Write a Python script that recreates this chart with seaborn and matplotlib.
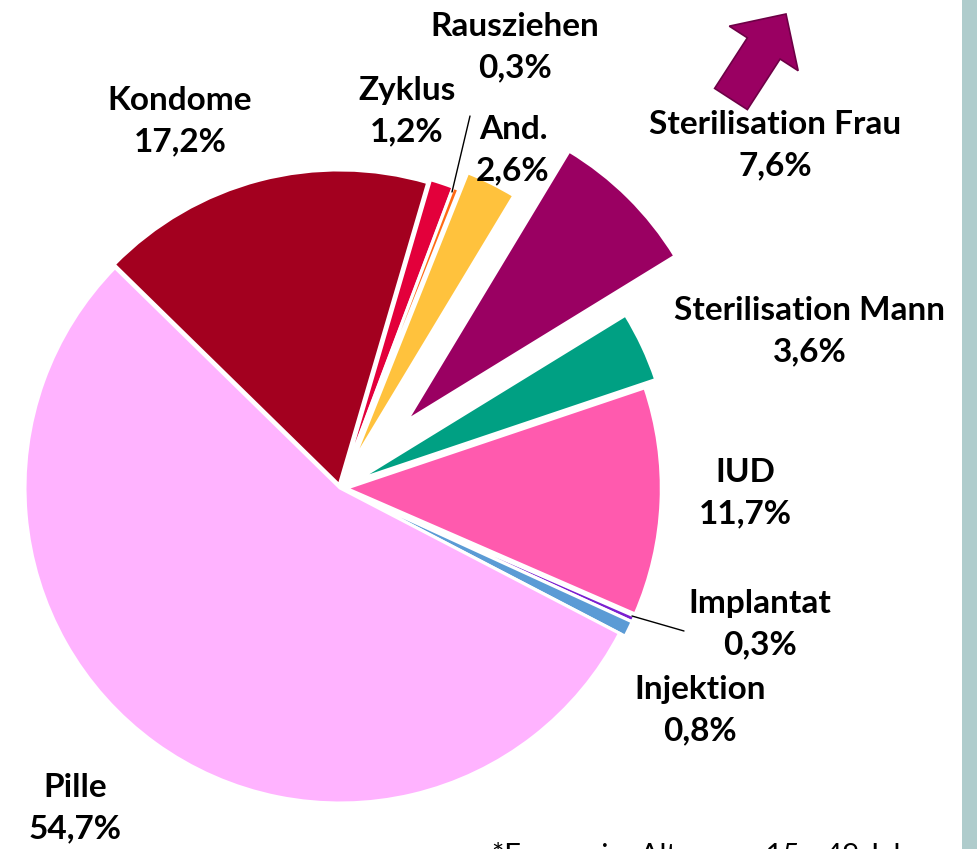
"""
Verhuetungsmethoden - Tortendiagramm (Nachbau)
"""

import matplotlib
matplotlib.use("Agg")

import matplotlib.pyplot as plt
import matplotlib.patches as mpatches
import seaborn as sns

# =============================================================================
# DATA
# =============================================================================

methods = [
    "Kondome", "Zyklus", "Rausziehen", "And.", "Sterilisation Frau",
    "Sterilisation Mann", "IUD", "Implantat", "Injektion", "Pille",
]

shares = [17.2, 1.2, 0.3, 2.6, 7.6, 3.6, 11.7, 0.3, 0.8, 54.7]

share_labels = [
    "17,2%", "1,2%", "0,3%", "2,6%", "7,6%",
    "3,6%", "11,7%", "0,3%", "0,8%", "54,7%",
]

footnote = "*Frauen im Alter von 15 - 49 Jahren"

# =============================================================================
# STYLE
# =============================================================================

sns.set_theme(style="white")
plt.rcParams["font.family"] = ["Lato", "DejaVu Sans"]

colors = [
    "#A3001F", "#E3003B", "#FF6A13", "#FFC23D", "#9A0062",
    "#00A083", "#FF5AAE", "#7B1FD0", "#5B9BD5", "#FFB3FF",
]

explode = [0.01, 0.02, 0.02, 0.08, 0.30, 0.06, 0.02, 0.02, 0.02, 0.0]

W, H = 977, 849
CX, CY, R = 340, 488, 315


def px(x, y):
    """pixel -> data coordinates (centre of pie = origin, radius = 1)"""
    return (x - CX) / R, (CY - y) / R


# =============================================================================
# FIGURE
# =============================================================================

fig = plt.figure(figsize=(W / 100, H / 100), dpi=100)
ax = fig.add_axes([0, 0, 1, 1])

ax.pie(
    shares,
    colors=colors,
    explode=explode,
    startangle=135.6,
    counterclock=False,
    radius=1.0,
    wedgeprops={"edgecolor": "white", "linewidth": 2.2},
)

ax.set_xlim(px(0, 0)[0], px(W, 0)[0])
ax.set_ylim(px(0, H)[1], px(0, 0)[1])
ax.set_aspect("equal")
ax.axis("off")

# label positions (pixel centres of the two-line labels)
label_pos = [
    (180, 121), (407, 111), (515, 47), (513, 150), (775, 145),
    (810, 331), (745, 493), (760, 624), (700, 710), (75, 808),
]

for name, val, (lx, ly) in zip(methods, share_labels, label_pos):
    x, y = px(lx, ly)
    ax.text(
        x, y, f"{name}\n{val}",
        ha="center", va="center",
        fontsize=24, fontweight="bold",
        linespacing=1.5, color="black",
    )

# leader lines
for (x0, y0), (x1, y1) in [((470, 116), (452, 192)), ((632, 616), (684, 631))]:
    a = px(x0, y0)
    b = px(x1, y1)
    ax.plot([a[0], b[0]], [a[1], b[1]], color="black", linewidth=1.0)

# block arrow next to "Sterilisation Frau"
tail = px(731, 99)
tip = px(786, 14)
arrow = mpatches.FancyArrow(
    tail[0], tail[1], tip[0] - tail[0], tip[1] - tail[1],
    width=39 / R, head_width=82 / R, head_length=41 / R,
    length_includes_head=True,
    facecolor="#9A0062", edgecolor="#6E0046", linewidth=1.2,
)
ax.add_patch(arrow)

# footnote (cut at the bottom edge like the original slide)
fx, fy = px(492, 856)
ax.text(fx, fy, footnote, ha="left", va="center", fontsize=21, color="black")

# teal strip at the right edge of the slide
sx, sy = px(962, H)
ax.add_patch(mpatches.Rectangle(
    (sx, sy), 20 / R, H / R, facecolor="#AFCCCC", edgecolor="none", zorder=5,
))

fig.savefig("out.png", dpi=100)
